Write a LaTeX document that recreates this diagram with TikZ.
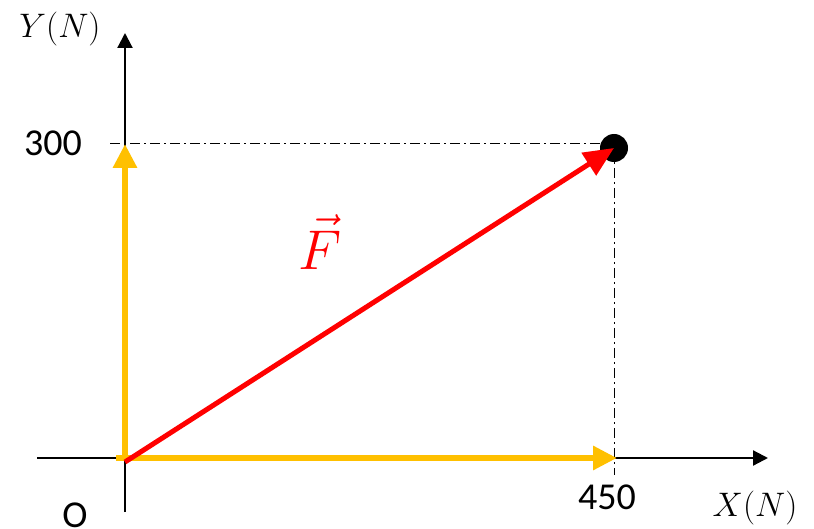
\RequirePackage{fix-cm}
\documentclass[tikz,border=0pt]{standalone}
\usepackage{fontspec}
\setmainfont{Carlito}
\usetikzlibrary{arrows.meta}
\definecolor{forceorange}{HTML}{FFC000}
\definecolor{forcered}{HTML}{FF0000}

\begin{document}
\begin{tikzpicture}[
    x=1pt, y=-1pt,
    axis/.style={
        line width=2.2pt, draw=black,
        -{Triangle[length=15pt, width=15pt]}
    },
    component/.style={
        line width=6pt, draw=forceorange,
        -{Triangle[length=24pt, width=23pt]}
    },
    force/.style={
        line width=5pt, draw=forcered,
        -{Triangle[length=30pt, width=26pt]}
    },
    guide/.style={
        line width=1pt, draw=black,
        dash pattern=on 10pt off 4pt on 2pt off 4pt
    },
    tick/.style={font=\fontsize{38}{38}\selectfont},
    axislabel/.style={font=\fontsize{34}{34}\selectfont}
]
\useasboundingbox (0,0) rectangle (814,529);

% ===== Points =====
\coordinate (O)     at (125,458);
\coordinate (xtail) at (37,458);
\coordinate (xhead) at (768,458);
\coordinate (ytail) at (125,512);
\coordinate (yhead) at (125,33);
\coordinate (Fx)    at (617,458);
\coordinate (Fy)    at (125,144);
\coordinate (otail) at (116,458);
\node[circle, fill=black, inner sep=0pt, minimum size=28pt] (P) at (614,148) {};
\coordinate (gx) at (110,144);
\coordinate (gy) at (614,475);

% ===== Guides =====
\draw[guide] (gx) -- (P.center |- gx);
\draw[guide] (P.center) -- (gy);

% ===== Axes =====
\draw[axis] (xtail) -- (xhead);
\draw[axis] (ytail) -- (yhead);

% ===== Components and force =====
\draw[component] (otail) -- (Fx);
\draw[component] (O) -- (Fy);
\draw[force] ([yshift=-4pt]O) -- (P.center);

% ===== Labels =====
\node[tick] (l300) at (53,143) {300};
\node[tick] (l450) at (607,497) {450};
\node[tick] (lO)   at (75,515) {O};
\node[axislabel] (ly) at (60,29) {$Y(N)$};
\node[axislabel] (lx) at (755,508) {$X(N)$};
\node[text=forcered, font=\fontsize{56}{56}\selectfont] (lF) at (320,242) {$\vec{F}$};

\end{tikzpicture}
\end{document}
